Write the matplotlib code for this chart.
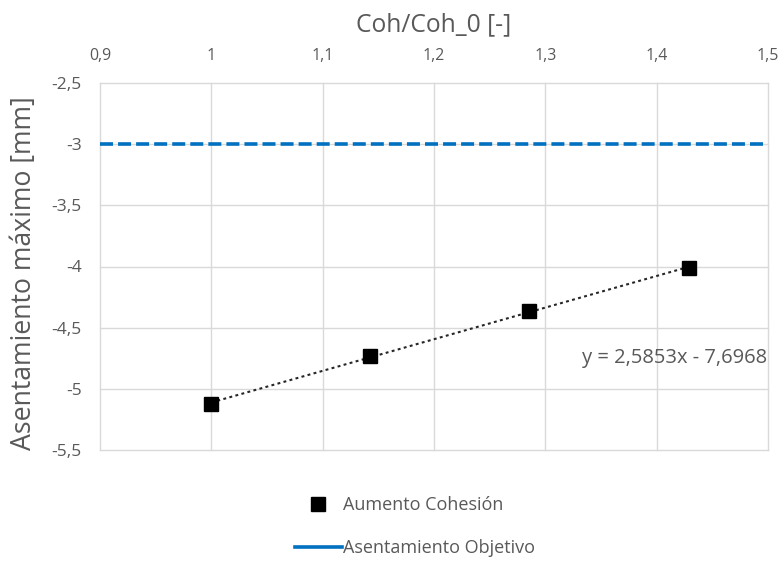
import matplotlib
matplotlib.use("Agg")
import matplotlib.pyplot as plt
from matplotlib.lines import Line2D

# Cohesion ratio vs. maximum settlement
coh_ratio = [1.0, 1.1429, 1.2857, 1.4286]
settlement = [-5.12, -4.735, -4.36, -4.015]
target_settlement = -3.0

# Linear trend reported on the chart
trend_slope = 2.5853
trend_intercept = -7.6968

x_ticks = [0.9, 1.0, 1.1, 1.2, 1.3, 1.4, 1.5]
x_tick_labels = ["0,9", "1", "1,1", "1,2", "1,3", "1,4", "1,5"]
y_ticks = [-5.5, -5.0, -4.5, -4.0, -3.5, -3.0, -2.5]
y_tick_labels = ["-5,5", "-5", "-4,5", "-4", "-3,5", "-3", "-2,5"]

TEXT = "#595959"
GRID = "#d9d9d9"
BLUE = "#0070c0"

plt.rcParams["font.family"] = ["Open Sans", "DejaVu Sans"]

fig = plt.figure(figsize=(7.83, 5.63), dpi=100)
ax = fig.add_axes([100 / 783, 1 - 450 / 563, 668 / 783, 367 / 563])

ax.set_xlim(0.9, 1.5)
ax.set_ylim(-5.5, -2.5)
ax.set_xticks(x_ticks)
ax.set_xticklabels(x_tick_labels)
ax.set_yticks(y_ticks)
ax.set_yticklabels(y_tick_labels, fontsize=12.5)
ax.xaxis.tick_top()
ax.xaxis.set_label_position("top")
ax.tick_params(axis="both", length=0, colors=TEXT)
ax.tick_params(axis="x", pad=14, labelsize=11.4)
ax.tick_params(axis="y", pad=13)
for s in ax.spines.values():
    s.set_visible(False)
ax.grid(True, color=GRID, linewidth=1.0)
for gl in ax.get_xgridlines() + ax.get_ygridlines():
    gl.set_clip_on(False)
ax.set_axisbelow(True)

# Target settlement
ax.axhline(target_settlement, color=BLUE, linewidth=2.6,
           linestyle=(0, (3.6, 1.4)), zorder=2)

# Trend line between the first and last sample
tx = [min(coh_ratio), max(coh_ratio)]
ty = [trend_slope * v + trend_intercept for v in tx]
ax.plot(tx, ty, color="#262626", linewidth=1.5, linestyle=(0, (1.4, 1.6)),
        zorder=3)

ax.plot(coh_ratio, settlement, linestyle="none", marker="s", markersize=10,
        color="black", zorder=4)

eq = "y = {:.4f}x - {:.4f}".format(trend_slope, abs(trend_intercept)).replace(".", ",")
ax.text(0.9985, 0.251, eq, transform=ax.transAxes, ha="right", va="center",
        fontsize=14.5, color=TEXT)

ax.set_xlabel("Coh/Coh_0 [-]", fontsize=17.7, color=TEXT, labelpad=12)
ax.set_ylabel("Asentamiento máximo [mm]", fontsize=19.2, color=TEXT)
ax.yaxis.set_label_coords(-62 / 668, 0.482)

handles = [
    Line2D([], [], linestyle="none", marker="s", markersize=10, color="black"),
    Line2D([], [], color=BLUE, linewidth=2.6),
]
leg = fig.legend(handles, ["Aumento Cohesión", "Asentamiento Objetivo"],
                 loc="center", bbox_to_anchor=(415 / 783, 1 - 526.5 / 563),
                 frameon=False, fontsize=13, labelcolor=TEXT,
                 handlelength=2.6, handletextpad=0.1, labelspacing=1.38)

fig.savefig("out.png", dpi=100, facecolor="white")
